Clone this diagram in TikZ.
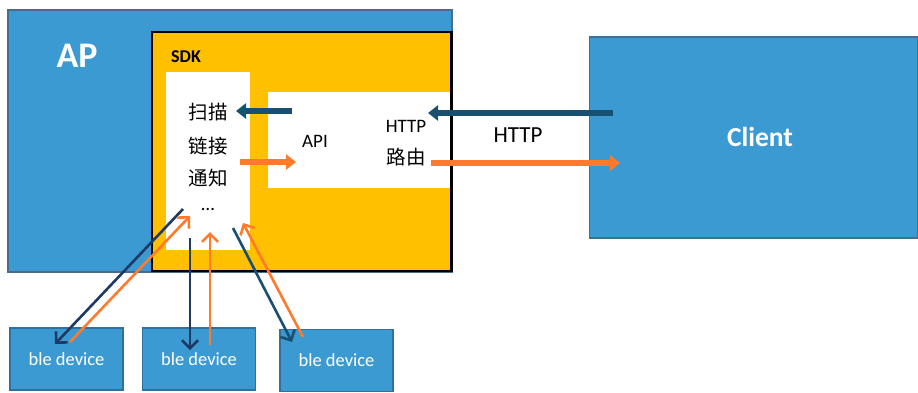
\documentclass[tikz,border=0pt]{standalone}
\usepackage{fontspec}
\setmainfont{Carlito}
\newfontfamily\cjk{Noto Sans CJK SC}
\usetikzlibrary{arrows.meta, positioning}
\definecolor{apblue}{RGB}{60,154,211}
\definecolor{boxedge}{RGB}{72,108,140}
\definecolor{devedge}{RGB}{46,112,160}
\definecolor{sdkyellow}{RGB}{255,192,0}
\definecolor{darkteal}{RGB}{24,80,114}
\definecolor{navy}{RGB}{30,58,100}
\definecolor{hotorange}{RGB}{255,122,42}
\tikzstyle{bluebox}=[rectangle, draw=boxedge, fill=apblue, line width=1.2pt, inner sep=0pt]
\tikzstyle{devbox}=[bluebox, draw=devedge, minimum width=113pt, minimum height=62pt, text=white, font=\fontsize{18.5}{20}\selectfont]
\tikzstyle{sdkbox}=[rectangle, draw=black, fill=sdkyellow, line width=1.5pt, inner sep=0pt]
\tikzstyle{whitebox}=[rectangle, fill=white, inner sep=0pt]
\tikzstyle{label}=[inner sep=0pt, font=\fontsize{19}{22}\selectfont]
\tikzstyle{cjklabel}=[inner sep=0pt, font=\cjk\fontsize{19.5}{22}\selectfont]
\tikzstyle{fat}=[line width=6.5pt, -{Triangle[length=10pt,width=15pt]}]
\tikzstyle{link}=[line width=2.6pt, -{Straight Barb[length=8pt,width=16pt]}]

\begin{document}
\begin{tikzpicture}[x=1pt, y=-1pt]
    \useasboundingbox (0,0) rectangle (918,392);

    % boxes
    \node[bluebox, minimum width=444pt, minimum height=262pt] (ap) at (230,141) {};
    \node[sdkbox, minimum width=299pt, minimum height=239pt] (sdk) at (301.5,151.5) {};
    \node[whitebox, minimum width=84pt, minimum height=178pt] (list) at (208,161) {};
    \node[whitebox, minimum width=182pt, minimum height=96pt] (apibox) at (359,140) {};
    \draw[black, line width=1.5pt] (sdk.north east) -- (sdk.south east);
    \node[bluebox, minimum width=328pt, minimum height=201pt] (client) at (753.5,137.5) {};

    \node[devbox] (dev1) at (66.5,359) {ble device};
    \node[devbox] (dev2) at (199,359) {ble device};
    \node[devbox] (dev3) at (336.5,360.5) {ble device};

    % labels
    \node[inner sep=0pt, text=white, font=\fontsize{36}{40}\selectfont\bfseries] (aplabel) at (77,56) {AP};
    \node[inner sep=0pt, font=\fontsize{18}{20}\selectfont\bfseries] (sdklabel) at (186,57) {SDK};
    \node[inner sep=0pt, text=white, font=\fontsize{27.5}{30}\selectfont\bfseries] (clientlabel) at (760,137) {Client};
    \node[cjklabel] (scan) at (208,112) {扫描};
    \node[cjklabel] (connect) at (208,146) {链接};
    \node[cjklabel] (notify) at (208,178) {通知};
    \node[label] (dots) at (208,209) {\ldots};
    \node[label] (api) at (315,141) {API};
    \node[label] (http) at (406,126) {HTTP};
    \node[cjklabel] (route) at (406,157) {路由};
    \node[label, font=\fontsize{23}{25}\selectfont] (proto) at (518,135) {HTTP};

    % arrow ends
    \coordinate (cmdA) at (292,111);  \coordinate (cmdB) at (236,111);
    \coordinate (reqA) at (613,113);  \coordinate (reqB) at (428,113);
    \coordinate (evtA) at (240,162);  \coordinate (evtB) at (296,162);
    \coordinate (rspA) at (431,163);  \coordinate (rspB) at (620,163);

    \coordinate (out1) at (183,209);  \coordinate (in1) at (55,344);
    \coordinate (up1) at (70,342);    \coordinate (back1) at (190,216);
    \coordinate (out2) at (190,238);  \coordinate (in2) at (190,350);
    \coordinate (up2) at (210,345);   \coordinate (back2) at (210,232);
    \coordinate (out3) at (233,228);  \coordinate (in3) at (292,342);
    \coordinate (up3) at (303,337);   \coordinate (back3) at (243,223);

    \draw[fat, darkteal] (cmdA) -- (cmdB);
    \draw[fat, darkteal] (reqA) -- (reqB);
    \draw[fat, hotorange] (evtA) -- (evtB);
    \draw[fat, hotorange] (rspA) -- (rspB);

    \draw[link, navy] (out1) -- (in1);
    \draw[link, hotorange] (up1) -- (back1);
    \draw[link, navy] (out2) -- (in2);
    \draw[link, hotorange] (up2) -- (back2);
    \draw[link, darkteal] (out3) -- (in3);
    \draw[link, hotorange] (up3) -- (back3);
\end{tikzpicture}
\end{document}
